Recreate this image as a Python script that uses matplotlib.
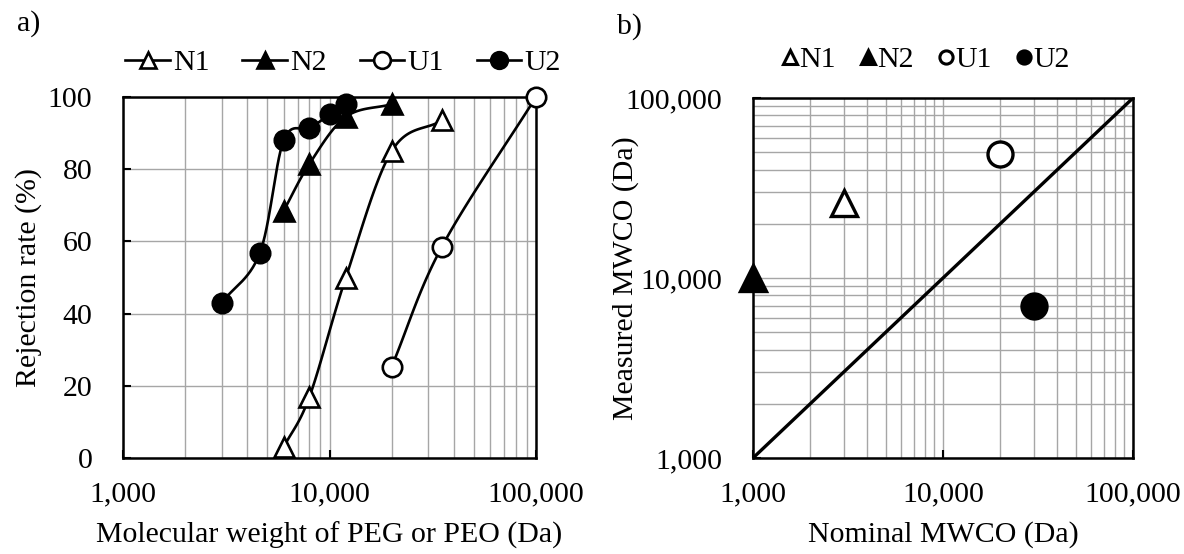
import numpy as np
import matplotlib
matplotlib.use('Agg')
import matplotlib.pyplot as plt
from matplotlib.ticker import FuncFormatter, LogLocator, MultipleLocator

plt.rcParams['font.family'] = ['Liberation Serif', 'DejaVu Serif']

# panel a) rejection rate vs molecular weight
n1_mw = [6000, 8000, 12000, 20000, 35000]
n1_rej = [3, 17, 50, 85, 93.5]
n2_mw = [6000, 8000, 12000, 20000]
n2_rej = [68.5, 81.5, 94.5, 98]
u1_mw = [20000, 35000, 100000]
u1_rej = [25.3, 58.5, 100]
u2_mw = [3000, 4600, 6000, 8000, 10000, 12000]
u2_rej = [43, 56.8, 88, 91.3, 95.2, 98]

# panel b) measured vs nominal MWCO
labels = ['N1', 'N2', 'U1', 'U2']
nominal = [3000, 1000, 20000, 30000]
measured = [26000, 10000, 49000, 7000]

FS = 21.5
GRID = '#a6a6a6'
W, H = 1184, 554


def smooth(xs, ys, n=30):
    # Catmull-Rom through the points in log-x space (like Excel smoothed lines)
    lx = np.log10(xs)
    ys = np.asarray(ys, float)
    px = np.concatenate([[2 * lx[0] - lx[1]], lx, [2 * lx[-1] - lx[-2]]])
    py = np.concatenate([[2 * ys[0] - ys[1]], ys, [2 * ys[-1] - ys[-2]]])
    outx, outy = [], []
    t = np.linspace(0, 1, n)
    for i in range(1, len(px) - 2):
        p0, p1, p2, p3 = px[i - 1], px[i], px[i + 1], px[i + 2]
        q0, q1, q2, q3 = py[i - 1], py[i], py[i + 1], py[i + 2]
        bx = [p1, p1 + (p2 - p0) / 6, p2 - (p3 - p1) / 6, p2]
        by = [q1, q1 + (q2 - q0) / 6, q2 - (q3 - q1) / 6, q2]
        for b, out in ((bx, outx), (by, outy)):
            out.extend((1 - t) ** 3 * b[0] + 3 * (1 - t) ** 2 * t * b[1]
                       + 3 * (1 - t) * t ** 2 * b[2] + t ** 3 * b[3])
    return 10 ** np.array(outx), np.array(outy)


def comma(v, pos):
    return f'{int(round(v)):,}'


fig = plt.figure(figsize=(W / 100, H / 100), dpi=100)
ax1 = fig.add_axes([123 / W, 1 - 458 / H, 413 / W, 361 / H])
ax2 = fig.add_axes([753 / W, 1 - 458 / H, 380 / W, 360 / H])

series = [
    ('N1', n1_mw, n1_rej, '^', 'white', 14),
    ('N2', n2_mw, n2_rej, '^', 'black', 14),
    ('U1', u1_mw, u1_rej, 'o', 'white', 14),
    ('U2', u2_mw, u2_rej, 'o', 'black', 14),
]
for name, xs, ys, mk, fc, ms in series:
    sx, sy = smooth(xs, ys)
    ax1.plot(sx, sy, color='black', lw=1.9, zorder=3)
    ax1.plot(xs, ys, ls='none', marker=mk, ms=ms, mfc=fc, mec='black', mew=1.9,
             zorder=7, clip_on=False)
    ax1.plot([], [], color='black', lw=1.9, marker=mk, ms=12, mfc=fc, mec='black',
             mew=1.9, label=name)

ax1.set_xscale('log')
ax1.set_xlim(1000, 100000)
ax1.set_ylim(0, 100)
ax1.yaxis.set_major_locator(MultipleLocator(20))
ax1.xaxis.set_major_formatter(FuncFormatter(comma))
ax1.xaxis.set_minor_locator(LogLocator(base=10, subs=np.arange(2, 10)))
ax1.grid(True, which='both', axis='x', color=GRID, lw=1)
ax1.grid(True, which='major', axis='y', color=GRID, lw=1)
ax1.set_xlabel('Molecular weight of PEG or PEO (Da)', fontsize=FS, va='center')
ax1.set_ylabel('Rejection rate (%)', fontsize=FS, va='center')
ax1.xaxis.set_label_coords(0.5, (458 - 535) / 361)
ax1.yaxis.set_label_coords((29 - 123) / 413, 0.5)
ax1.legend(loc='center', bbox_to_anchor=((343 - 123) / 413, (458 - 63) / 361), ncol=4,
           frameon=False, fontsize=FS, handlelength=1.5, handletextpad=0.1,
           columnspacing=1.1, borderaxespad=0, borderpad=0)
fig.text(17 / W, 1 - 24 / H, 'a)', fontsize=FS, va='center', ha='left')

styles = {'N1': ('^', 'white', 19), 'N2': ('^', 'black', 19),
          'U1': ('o', 'white', 18), 'U2': ('o', 'black', 18)}
ax2.plot([1000, 100000], [1000, 100000], color='black', lw=2.4, zorder=3)
for name, nx, my in zip(labels, nominal, measured):
    mk, fc, ms = styles[name]
    ax2.plot([nx], [my], ls='none', marker=mk, ms=ms, mfc=fc, mec='black', mew=2.4,
             zorder=7, clip_on=False)
    ax2.plot([], [], ls='none', marker=mk, ms=9.5, mfc=fc, mec='black', mew=2.2,
             label=name)

ax2.set_xscale('log')
ax2.set_yscale('log')
ax2.set_xlim(1000, 100000)
ax2.set_ylim(1000, 100000)
for axis in (ax2.xaxis, ax2.yaxis):
    axis.set_major_formatter(FuncFormatter(comma))
    axis.set_minor_locator(LogLocator(base=10, subs=np.arange(2, 10)))
ax2.grid(True, which='both', color=GRID, lw=1)
ax2.set_xlabel('Nominal MWCO (Da)', fontsize=FS, va='center')
ax2.set_ylabel('Measured MWCO (Da)', fontsize=FS, va='center')
ax2.xaxis.set_label_coords(0.5, (458 - 535) / 360)
ax2.yaxis.set_label_coords((626 - 753) / 380, 0.5)
ax2.legend(loc='center', bbox_to_anchor=((926 - 753) / 380, (458 - 60) / 360), ncol=4,
           frameon=False, fontsize=FS, handlelength=0.5, handletextpad=0.05,
           columnspacing=0.85, borderaxespad=0, borderpad=0)
fig.text(617 / W, 1 - 27 / H, 'b)', fontsize=FS, va='center', ha='left')

for ax in (ax1, ax2):
    for sp in ax.spines.values():
        sp.set_linewidth(1.8)
        sp.set_zorder(6)
    ax.tick_params(which='major', direction='in', length=6, width=1.5, labelsize=FS)
    ax.tick_params(axis='x', which='major', pad=17)
    ax.tick_params(axis='y', which='major', pad=22)
    ax.tick_params(which='minor', length=0)
    ax.set_axisbelow(True)

fig.savefig('out.png', dpi=100)
